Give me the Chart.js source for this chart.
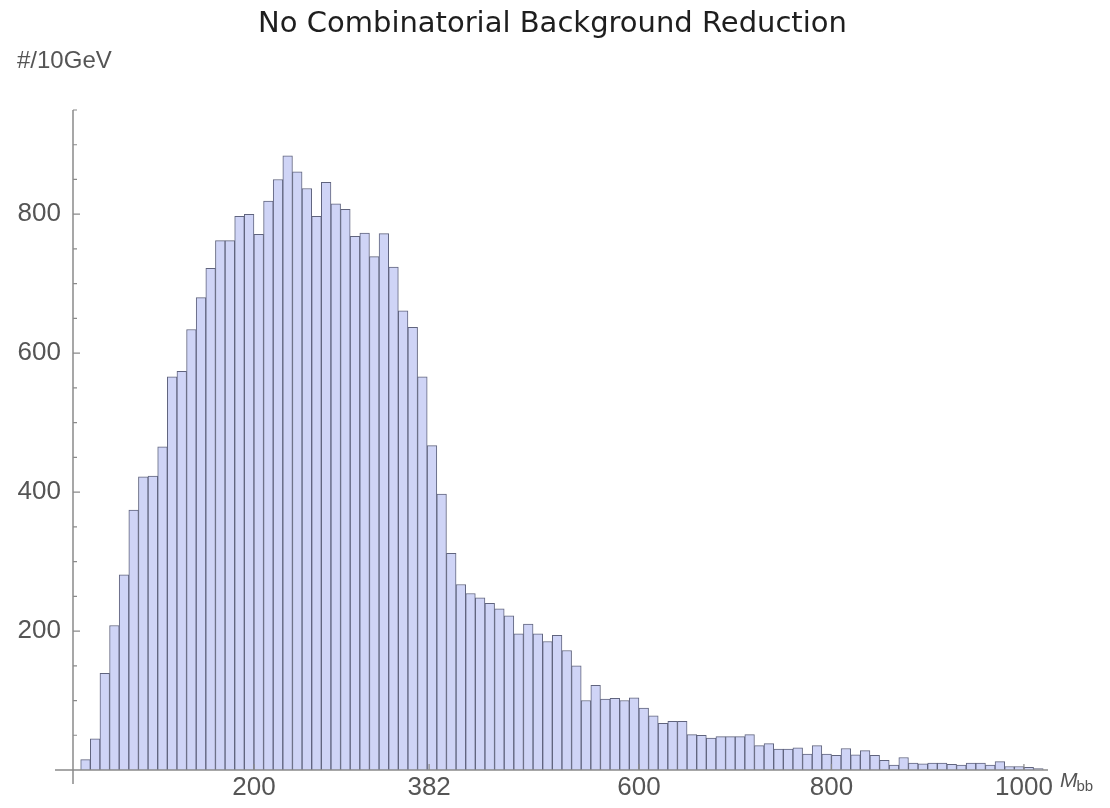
<!DOCTYPE html>
<html>
<head>
<meta charset="utf-8">
<script src="https://cdn.jsdelivr.net/npm/chart.js@4.4.0/dist/chart.umd.min.js"></script>
<style>
  html, body { margin: 0; padding: 0; background: #ffffff; }
</style>
</head>
<body>
<canvas id="grafico" width="1110" height="808"></canvas>
<script>
// histogram: events per 10 GeV bin, first bin starts at 20 GeV
var primeiroBin = 20;
var larguraBin = 10;
var contagens = [
  15, 45, 139, 208, 281, 374, 422, 423, 465, 566,
  574, 634, 680, 722, 762, 762, 797, 800, 771, 819,
  850, 884, 861, 837, 797, 846, 815, 807, 768, 773,
  739, 772, 724, 661, 637, 566, 467, 397, 312, 267,
  254, 248, 240, 232, 222, 196, 210, 196, 185, 194,
  172, 150, 100, 122, 102, 103, 100, 104, 89, 78,
  67, 70, 70, 51, 50, 46, 48, 48, 48, 51,
  35, 38, 30, 30, 32, 23, 35, 23, 21, 31,
  22, 28, 21, 14, 7, 18, 10, 9, 10, 10,
  8, 7, 10, 10, 7, 12, 5, 5, 4, 2
];

// ticks
var ticksX = [200, 382, 600, 800, 1000];
var rotulosY = [200, 400, 600, 800];

var titulo = 'No Combinatorial Background Reduction';
var rotuloEixoY = '#/10GeV';

var corBarra = 'rgb(207, 212, 246)';
var corBorda = 'rgb(96, 100, 126)';
var corEixo = '#8a8a8a';
var corTexto = '#555555';

var pontos = contagens.map(function(v, i) {
  return { x: primeiroBin + larguraBin * i + larguraBin / 2, y: v };
});

// draws Mathematica-like axes: inward ticks, title and axis labels
var eixosPlugin = {
  id: 'eixos',
  afterDatasetsDraw: function(chart) {
    var ctx = chart.ctx;
    var area = chart.chartArea;
    var sx = chart.scales.x;
    var sy = chart.scales.y;
    ctx.save();
    ctx.strokeStyle = corEixo;
    ctx.lineWidth = 1.5;
    ctx.beginPath();
    ctx.moveTo(area.left, area.top);
    ctx.lineTo(area.left, area.bottom + 14);
    ctx.moveTo(area.left - 18, area.bottom);
    ctx.lineTo(area.right, area.bottom);
    ctx.stroke();

    ctx.lineWidth = 1.2;
    ctx.beginPath();
    sy.ticks.forEach(function(t) {
      if (t.value === 0) return;
      var py = sy.getPixelForValue(t.value);
      var len = rotulosY.indexOf(t.value) >= 0 ? 7 : 4;
      ctx.moveTo(area.left, py);
      ctx.lineTo(area.left + len, py);
    });
    ticksX.forEach(function(v) {
      var px = sx.getPixelForValue(v);
      ctx.moveTo(px, area.bottom);
      ctx.lineTo(px, area.bottom - 6);
    });
    ctx.stroke();

    // title
    ctx.fillStyle = '#1e1e1e';
    ctx.textAlign = 'center';
    ctx.textBaseline = 'alphabetic';
    ctx.font = '29px "DejaVu Sans"';
    ctx.fillText(titulo, (area.left + area.right) / 2 - 8, 32);

    ctx.fillStyle = corTexto;
    ctx.textAlign = 'left';
    ctx.font = '24px "Liberation Sans"';
    ctx.fillText(rotuloEixoY, area.left - 56, area.top - 42);

    ctx.font = 'italic 21px "Liberation Sans"';
    ctx.fillText('M', area.right + 12, area.bottom + 17);
    var w = ctx.measureText('M').width;
    ctx.font = '15px "Liberation Sans"';
    ctx.fillText('bb', area.right + 12 + w - 1, area.bottom + 21);
    ctx.restore();
  }
};

var grafico = new Chart(document.getElementById('grafico').getContext('2d'), {
  type: 'bar',
  data: {
    datasets: [{
      data: pontos,
      backgroundColor: corBarra,
      borderColor: corBorda,
      borderWidth: 1,
      barPercentage: 1,
      categoryPercentage: 1
    }]
  },
  options: {
    responsive: false,
    animation: false,
    layout: { padding: { left: 0, right: 62, top: 110, bottom: 3 } },
    plugins: {
      legend: { display: false },
      tooltip: { enabled: false },
      title: { display: false }
    },
    scales: {
      x: {
        type: 'linear',
        min: 12,
        max: 1025,
        offset: false,
        grid: { display: false, drawTicks: false },
        border: { display: false },
        afterBuildTicks: function(s) {
          s.ticks = ticksX.map(function(v) { return { value: v }; });
        },
        afterFit: function(s) { s.height = 35; },
        ticks: {
          autoSkip: false,
          maxRotation: 0,
          padding: 2,
          color: corTexto,
          font: { family: 'Liberation Sans', size: 26 },
          callback: function(v) { return v; }
        }
      },
      y: {
        min: 0,
        max: 950,
        grid: { display: false, drawTicks: false },
        border: { display: false },
        afterFit: function(s) { s.width = 73; },
        ticks: {
          stepSize: 50,
          autoSkip: false,
          padding: 12,
          color: corTexto,
          font: { family: 'Liberation Sans', size: 26 },
          callback: function(v) { return rotulosY.indexOf(v) >= 0 ? v : ''; }
        }
      }
    }
  },
  plugins: [eixosPlugin]
});
</script>
</body>
</html>
